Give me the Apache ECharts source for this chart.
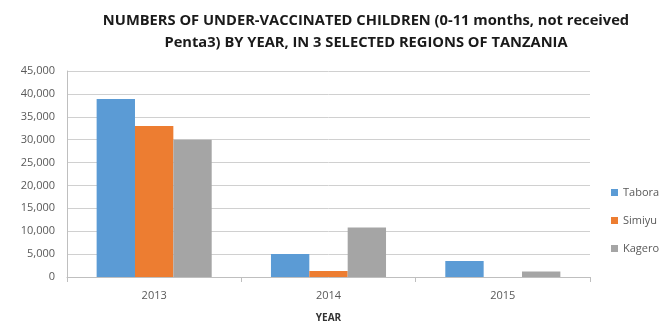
<!DOCTYPE html>
<html>
<head>
<meta charset="utf-8">
<script src="https://cdn.jsdelivr.net/npm/echarts@6/dist/echarts.min.js"></script>
<style>
  html, body { margin: 0; padding: 0; background: #fff; }
  #chart { width: 665px; height: 324px; }
</style>
</head>
<body>
<div id="chart"></div>
<script>
const years = ['2013', '2014', '2015'];
const tabora = [38900, 5000, 3500];
const simiyu = [33000, 1300, 0];
const kagero = [30000, 10800, 1200];

const labelColor = '#595959';
const fontFamily = 'Open Sans, Liberation Sans, sans-serif';

const chart = echarts.init(document.getElementById('chart'));

function barSeries(name, data, color) {
  return {
    name,
    type: 'bar',
    data,
    barGap: 0,
    barCategoryGap: '34%',
    itemStyle: { color },
    animation: false
  };
}

const option = {
  animation: false,
  title: {
    text: 'NUMBERS OF UNDER-VACCINATED CHILDREN (0-11 months, not received\nPenta3) BY YEAR, IN 3 SELECTED REGIONS OF TANZANIA',
    left: 361,
    top: 5,
    textAlign: 'center',
    textStyle: {
      color: '#1a1a1a',
      fontSize: 14.7,
      fontWeight: 'bold',
      fontFamily,
      lineHeight: 22
    }
  },
  grid: {
    left: 67,
    right: 75,
    top: 71,
    bottom: 47,
    outerBoundsMode: 'none'
  },
  legend: {
    orient: 'vertical',
    left: 606,
    top: 182,
    itemWidth: 7,
    itemHeight: 7,
    itemGap: 17,
    icon: 'rect',
    selectedMode: false,
    textStyle: { color: labelColor, fontSize: 11, fontFamily },
    data: ['Tabora', 'Simiyu', 'Kagero']
  },
  xAxis: {
    type: 'category',
    data: years,
    name: 'YEAR',
    nameLocation: 'middle',
    nameGap: 36,
    nameTextStyle: { color: '#333', fontSize: 10, fontWeight: 'bold', fontFamily },
    axisLine: { lineStyle: { color: '#bfbfbf' } },
    axisTick: { show: true, length: 5, lineStyle: { color: '#bfbfbf' } },
    axisLabel: { color: labelColor, fontSize: 11, fontFamily, margin: 13 }
  },
  yAxis: {
    type: 'value',
    min: 0,
    max: 45000,
    interval: 5000,
    axisLine: { show: true, lineStyle: { color: '#bfbfbf' } },
    axisTick: { show: false },
    splitLine: { lineStyle: { color: '#d0d0d0' } },
    axisLabel: {
      color: labelColor,
      fontSize: 11,
      fontFamily,
      margin: 12,
      formatter: v => v.toLocaleString('en-US')
    }
  },
  series: [
    barSeries('Tabora', tabora, '#5b9bd5'),
    barSeries('Simiyu', simiyu, '#ed7d31'),
    barSeries('Kagero', kagero, '#a5a5a5')
  ]
};

chart.setOption(option);
</script>
</body>
</html>
